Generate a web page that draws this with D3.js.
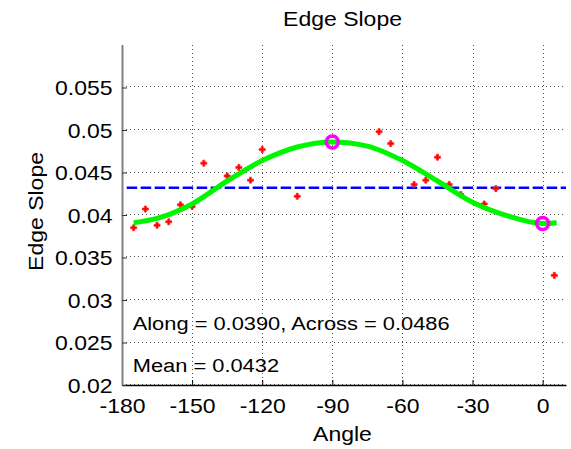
<!DOCTYPE html>
<html><head><meta charset="utf-8">
<script src="https://cdn.jsdelivr.net/npm/d3@7"></script>
<style>body{margin:0;background:#fff}svg{display:block}text{font-family:"Liberation Sans",Arial,sans-serif;fill:#000}</style>
</head><body><svg id="c" width="571" height="449"></svg>
<script>
// Measured samples (angle in degrees, edge slope)
const pointAngles = [-175,-170,-165,-160,-155,-150,-145,-135,-130,-125,-120,-105,-70,-65,-55,-50,-45,-40,-35,-25,-20,5];
const pointValues = [0.0385,0.0407,0.0388,0.0392,0.0412,0.0410,0.0461,0.0446,0.0456,0.0441,0.0477,0.0422,0.0498,0.0484,0.0436,0.0441,0.0468,0.0436,0.0424,0.0413,0.0431,0.0329];
// Fitted curve
const fitAngles = [-175,-165,-150,-135,-120,-105,-90,-75,-60,-45,-30,-15,0,6];
const fitValues = [0.0391,0.0396,0.0413,0.0440,0.0464,0.0480,0.0486,0.0481,0.0464,0.0440,0.0415,0.0399,0.0390,0.0391];
const extremaAngles = [-90, 0];
const extremaValues = [0.0486, 0.0390];
const meanValue = 0.0432;
const xTicks = [-180,-150,-120,-90,-60,-30,0];
const xTickLabels = ["-180","-150","-120","-90","-60","-30","0"];
const yTicks = [0.02,0.025,0.03,0.035,0.04,0.045,0.05,0.055];
const yTickLabels = ["0.02","0.025","0.03","0.035","0.04","0.045","0.05","0.055"];
const titleText = "Edge Slope", xLabel = "Angle", yLabel = "Edge Slope";
const note1 = "Along = 0.0390, Across = 0.0486", note2 = "Mean = 0.0432";

const SX = 1.15;
const FONT = "Liberation Sans, Arial, sans-serif";
const svg = d3.select("#c");
const L = 122, R = 566, T = 45, B = 385;
const x = d3.scaleLinear().domain([-180, 10]).range([L, R]);
const y = d3.scaleLinear().domain([0.02, 0.06]).range([B, T]);

function label(txt, px, py, size, anchor, rot) {
  const g = svg.append("g").attr("transform", `translate(${px},${py}) rotate(${rot||0}) scale(${SX},1)`);
  g.append("text").attr("text-anchor", anchor).attr("font-size", size).text(txt);
}

// grid
const grid = svg.append("g").attr("stroke", "#505050").attr("stroke-width", 1).attr("stroke-dasharray", "1,3");
grid.selectAll(".gx").data(xTicks).join("line")
  .attr("x1", d => Math.round(x(d)) + 0.5).attr("x2", d => Math.round(x(d)) + 0.5).attr("y1", T).attr("y2", B);
grid.selectAll(".gy").data(yTicks).join("line")
  .attr("x1", L).attr("x2", R).attr("y1", d => Math.round(y(d)) - 0.5).attr("y2", d => Math.round(y(d)) - 0.5);

// axes
const xAxis = svg.append("g").attr("transform", `translate(0,${B})`)
  .call(d3.axisBottom(x).tickValues(xTicks).tickSize(-5).tickSizeOuter(0).tickFormat((d, i) => xTickLabels[i]));
xAxis.select(".domain").attr("stroke", "#000").attr("stroke-width", 1.5);
xAxis.selectAll(".tick line").attr("stroke", "#000");
xAxis.selectAll(".tick text").attr("font-size", 20).attr("y", 28.3).attr("dy", 0)
  .attr("transform", `scale(${SX},1)`).attr("font-family", FONT).attr("fill", "#000");

const yAxis = svg.append("g").attr("transform", `translate(${L},0)`)
  .call(d3.axisLeft(y).tickValues(yTicks).tickSize(-5).tickSizeOuter(0).tickFormat((d, i) => yTickLabels[i]));
yAxis.select(".domain").attr("stroke", "#808080").attr("stroke-width", 2);
yAxis.selectAll(".tick line").attr("stroke", "#333");
yAxis.selectAll(".tick text").attr("font-size", 20).attr("x", -9.5 / SX).attr("dy", "0.36em")
  .attr("transform", `scale(${SX},1)`).attr("font-family", FONT).attr("fill", "#000");

// mean line
svg.append("line").attr("x1", x(-178)).attr("x2", R).attr("y1", y(meanValue)).attr("y2", y(meanValue))
  .attr("stroke", "#0000ff").attr("stroke-width", 2.5).attr("stroke-dasharray", "10.5,3.5");

// points
svg.append("g").selectAll("path").data(pointAngles).join("path")
  .attr("transform", (d, i) => `translate(${x(d)},${y(pointValues[i])})`)
  .attr("d", d3.symbol().type(d3.symbolCross).size(20))
  .attr("fill", "#ff0000").attr("stroke", "#ff2020").attr("stroke-width", 0.8);

// fitted curve
const line = d3.line().x((d, i) => x(d)).y((d, i) => y(fitValues[i])).curve(d3.curveMonotoneX);
svg.append("path").attr("d", line(fitAngles)).attr("fill", "none")
  .attr("stroke", "#00f500").attr("stroke-width", 5).attr("stroke-linecap", "butt");

// extrema circles
svg.append("g").selectAll("circle").data(extremaAngles).join("circle")
  .attr("cx", d => x(d)).attr("cy", (d, i) => y(extremaValues[i])).attr("r", 6)
  .attr("fill", "none").attr("stroke", "#ff00ff").attr("stroke-width", 3.5);

// texts
label(titleText, 342.5, 26, 20, "middle");
label(xLabel, 342.5, 441, 20, "middle");
label(yLabel, 43, 211.5, 20, "middle", -90);
label(note1, 132.7, 330, 19, "start");
label(note2, 132.7, 371.5, 19, "start");
</script></body></html>
